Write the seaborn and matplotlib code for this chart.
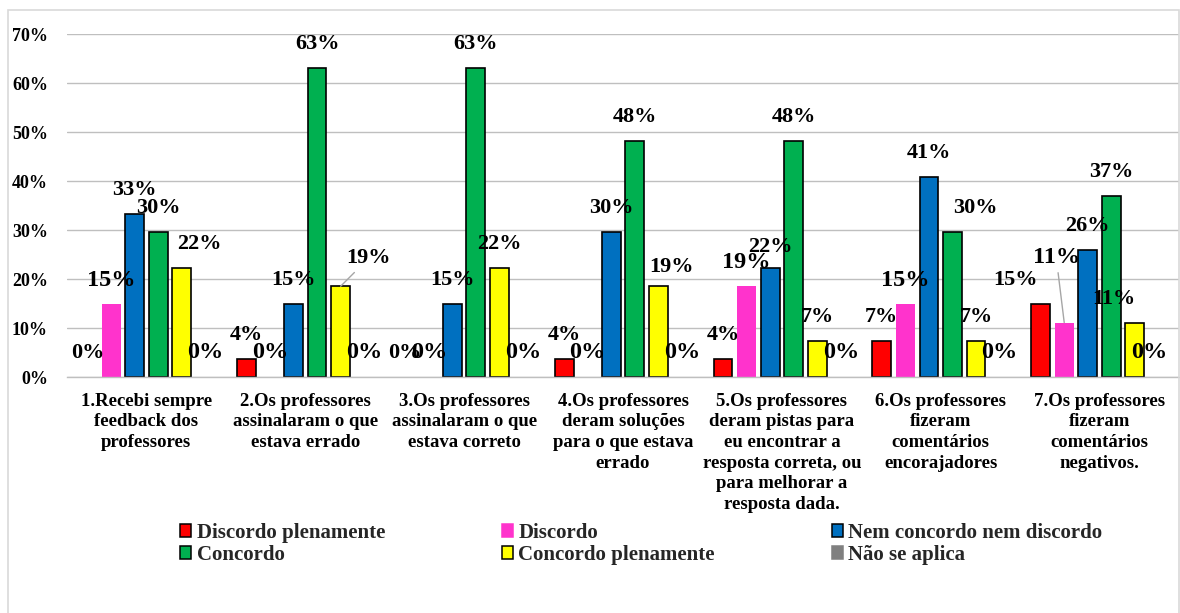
import numpy as np
import pandas as pd
import matplotlib.pyplot as plt
import seaborn as sns
from matplotlib.patches import Patch, Rectangle
from matplotlib.ticker import PercentFormatter

# dados (percentagens)
perguntas = [
    "1.Recebi sempre\nfeedback dos\nprofessores",
    "2.Os professores\nassinalaram o que\nestava errado",
    "3.Os professores\nassinalaram o que\nestava correto",
    "4.Os professores\nderam soluções\npara o que estava\nerrado",
    "5.Os professores\nderam pistas para\neu encontrar a\nresposta correta, ou\npara melhorar a\nresposta dada.",
    "6.Os professores\nfizeram\ncomentários\nencorajadores",
    "7.Os professores\nfizeram\ncomentários\nnegativos.",
]
respostas = ['Discordo plenamente', 'Discordo', 'Nem concordo nem discordo',
             'Concordo', 'Concordo plenamente', 'Não se aplica']

discordo_plenamente = [0, 3.70, 0, 3.70, 3.70, 7.41, 14.81]
discordo = [14.81, 0, 0, 0, 18.52, 14.81, 11.11]
nem_concordo = [33.33, 14.81, 14.81, 29.63, 22.22, 40.74, 25.93]
concordo = [29.63, 62.96, 62.96, 48.15, 48.15, 29.63, 37.04]
concordo_plenamente = [22.22, 18.52, 22.22, 18.52, 7.41, 7.41, 11.11]
nao_se_aplica = [0, 0, 0, 0, 0, 0, 0]

series = [discordo_plenamente, discordo, nem_concordo, concordo,
          concordo_plenamente, nao_se_aplica]
cores = ['#FF0000', '#FF33CC', '#0070C0', '#00B050', '#FFFF00', '#808080']
com_borda = [True, False, True, True, True, False]
tam_rotulo = [16, 17.5, 16, 16, 16, 17.5]

# rótulos deslocados manualmente (série, pergunta) -> (dx, dy, linha guia) em pixels
desvios = {
    (4, 0): (18, 0, False),
    (4, 1): (28, 4, True),
    (4, 3): (13, -5, False),
    (2, 4): (0, -3, False),
    (3, 5): (23, 0, False),
    (0, 6): (-25, 0, False),
    (1, 6): (-8, 41, True),
    (4, 6): (-21, 0, False),
    (5, 6): (-9, 0, False),
}

linhas = [(p, r, v) for r, vals in zip(respostas, series) for p, v in zip(perguntas, vals)]
df = pd.DataFrame(linhas, columns=['Pergunta', 'Resposta', 'Valor'])

sns.set_style('white')
plt.rcParams['font.family'] = ['Liberation Serif', 'DejaVu Serif']
plt.rcParams['font.weight'] = 'bold'

fig = plt.figure(figsize=(11.8, 6.13), dpi=100)
ax = fig.add_axes([67 / 1180, 1 - 377 / 613, 1112 / 1180, 343 / 613])

sns.barplot(data=df, x='Pergunta', y='Valor', hue='Resposta', order=perguntas,
            hue_order=respostas, palette=cores, saturation=1, width=0.89, gap=0.2,
            errorbar=None, legend=False, ax=ax)

for i, cont in enumerate(ax.containers):
    for j, bar in enumerate(cont):
        bar.set_edgecolor('black' if com_borda[i] else 'none')
        bar.set_linewidth(1.2)
        h = bar.get_height()
        if h == 0:
            bar.set_visible(False)
        dx, dy, guia = desvios.get((i, j), (0, 0, False))
        x = bar.get_x() + bar.get_width() / 2
        kw = {}
        if guia:
            kw['arrowprops'] = dict(arrowstyle='-', color='#A6A6A6', lw=1,
                                    shrinkA=1, shrinkB=0)
        ax.annotate(f'{h:.0f}%', (x, h), xytext=(dx, 24 + dy),
                    textcoords='offset pixels', ha='center', va='center',
                    fontsize=tam_rotulo[i], fontweight='bold', color='black', **kw)

ax.set_ylim(0, 70)
ax.set_yticks(range(0, 71, 10))
ax.yaxis.set_major_formatter(PercentFormatter(xmax=100, decimals=0))
ax.set_axisbelow(True)
ax.yaxis.grid(True, color='#BFBFBF', lw=1)
ax.xaxis.grid(False)
for s in ['left', 'top', 'right']:
    ax.spines[s].set_visible(False)
ax.spines['bottom'].set_color('#BFBFBF')
ax.spines['bottom'].set_linewidth(1)
ax.tick_params(axis='both', length=0, colors='black')
ax.tick_params(axis='y', pad=13.7, labelsize=13)
ax.tick_params(axis='x', pad=11.5, labelsize=13.5)
for lbl in ax.get_xticklabels():
    lbl.set_linespacing(1.27)
    lbl.set_fontweight('bold')
for lbl in ax.get_yticklabels():
    lbl.set_fontweight('bold')
ax.set_xlabel('')
ax.set_ylabel('')

# legenda (3 colunas, preenchida por linha como no original)
handles = [Patch(facecolor=c, edgecolor='black' if b else c, lw=1.1)
           for c, b in zip(cores, com_borda)]
ordem = [0, 3, 1, 4, 2, 5]
fig.legend([handles[k] for k in ordem], [respostas[k] for k in ordem],
           loc='upper left', bbox_to_anchor=(180 / 1180, 1 - 523 / 613), ncol=3,
           frameon=False, handlelength=0.55, handleheight=0.55,
           handletextpad=0.25, columnspacing=5.6, labelspacing=0.1,
           borderpad=0, borderaxespad=0, prop={'weight': 'bold', 'size': 15})

# moldura do gráfico
fig.add_artist(Rectangle((8 / 1180, -0.02), 1171 / 1180, 1 - 10 / 613 + 0.02,
                         transform=fig.transFigure, fill=False,
                         edgecolor='#D9D9D9', lw=1.2))

fig.savefig('out.png', dpi=100)
